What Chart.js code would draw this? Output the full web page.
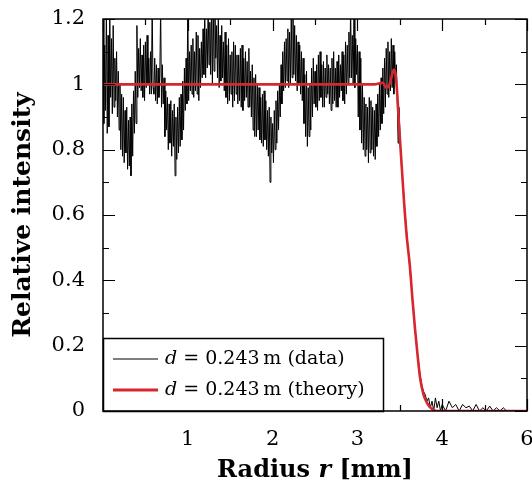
<!DOCTYPE html>
<html>
<head>
<meta charset="utf-8">
<script src="https://cdn.jsdelivr.net/npm/chart.js@4"></script>
<style>
  html, body { margin: 0; padding: 0; background: #fff; }
  #wrap { width: 532px; height: 489px; }
</style>
</head>
<body>
<div id="wrap"><canvas id="graphIntensity"></canvas></div>
<script>
const dataRadius = [
    0.00, 0.01, 0.02, 0.03, 0.04, 0.05, 0.06, 0.07, 0.08, 0.09, 0.10, 0.11, 0.12, 0.13, 0.14, 0.15, 0.16, 0.17, 0.18, 0.19,
    0.20, 0.21, 0.22, 0.23, 0.24, 0.25, 0.26, 0.27, 0.28, 0.29, 0.30, 0.31, 0.32, 0.33, 0.34, 0.35, 0.36, 0.37, 0.38, 0.39,
    0.40, 0.41, 0.42, 0.43, 0.44, 0.45, 0.46, 0.47, 0.48, 0.49, 0.50, 0.51, 0.52, 0.53, 0.54, 0.55, 0.56, 0.57, 0.58, 0.59,
    0.60, 0.61, 0.62, 0.63, 0.64, 0.65, 0.66, 0.67, 0.68, 0.69, 0.70, 0.71, 0.72, 0.73, 0.74, 0.75, 0.76, 0.77, 0.78, 0.79,
    0.80, 0.81, 0.82, 0.83, 0.84, 0.85, 0.86, 0.87, 0.88, 0.89, 0.90, 0.91, 0.92, 0.93, 0.94, 0.95, 0.96, 0.97, 0.98, 0.99,
    1.00, 1.01, 1.02, 1.03, 1.04, 1.05, 1.06, 1.07, 1.08, 1.09, 1.10, 1.11, 1.12, 1.13, 1.14, 1.15, 1.16, 1.17, 1.18, 1.19,
    1.20, 1.21, 1.22, 1.23, 1.24, 1.25, 1.26, 1.27, 1.28, 1.29, 1.30, 1.31, 1.32, 1.33, 1.34, 1.35, 1.36, 1.37, 1.38, 1.39,
    1.40, 1.41, 1.42, 1.43, 1.44, 1.45, 1.46, 1.47, 1.48, 1.49, 1.50, 1.51, 1.52, 1.53, 1.54, 1.55, 1.56, 1.57, 1.58, 1.59,
    1.60, 1.61, 1.62, 1.63, 1.64, 1.65, 1.66, 1.67, 1.68, 1.69, 1.70, 1.71, 1.72, 1.73, 1.74, 1.75, 1.76, 1.77, 1.78, 1.79,
    1.80, 1.81, 1.82, 1.83, 1.84, 1.85, 1.86, 1.87, 1.88, 1.89, 1.90, 1.91, 1.92, 1.93, 1.94, 1.95, 1.96, 1.97, 1.98, 1.99,
    2.00, 2.01, 2.02, 2.03, 2.04, 2.05, 2.06, 2.07, 2.08, 2.09, 2.10, 2.11, 2.12, 2.13, 2.14, 2.15, 2.16, 2.17, 2.18, 2.19,
    2.20, 2.21, 2.22, 2.23, 2.24, 2.25, 2.26, 2.27, 2.28, 2.29, 2.30, 2.31, 2.32, 2.33, 2.34, 2.35, 2.36, 2.37, 2.38, 2.39,
    2.40, 2.41, 2.42, 2.43, 2.44, 2.45, 2.46, 2.47, 2.48, 2.49, 2.50, 2.51, 2.52, 2.53, 2.54, 2.55, 2.56, 2.57, 2.58, 2.59,
    2.60, 2.61, 2.62, 2.63, 2.64, 2.65, 2.66, 2.67, 2.68, 2.69, 2.70, 2.71, 2.72, 2.73, 2.74, 2.75, 2.76, 2.77, 2.78, 2.79,
    2.80, 2.81, 2.82, 2.83, 2.84, 2.85, 2.86, 2.87, 2.88, 2.89, 2.90, 2.91, 2.92, 2.93, 2.94, 2.95, 2.96, 2.97, 2.98, 2.99,
    3.00, 3.01, 3.02, 3.03, 3.04, 3.05, 3.06, 3.07, 3.08, 3.09, 3.10, 3.11, 3.12, 3.13, 3.14, 3.15, 3.16, 3.17, 3.18, 3.19,
    3.20, 3.21, 3.22, 3.23, 3.24, 3.25, 3.26, 3.27, 3.28, 3.29, 3.30, 3.31, 3.32, 3.33, 3.34, 3.35, 3.36, 3.37, 3.38, 3.39,
    3.40, 3.41, 3.42, 3.43, 3.44, 3.45, 3.46, 3.47, 3.48, 3.49, 3.50,
    3.52, 3.54, 3.56, 3.58, 3.60, 3.62, 3.64, 3.66, 3.68, 3.70, 3.72, 3.74,
    3.76, 3.78, 3.80, 3.82, 3.84, 3.86, 3.88, 3.90, 3.92, 3.94, 3.96, 3.98,
    4.00, 4.04, 4.08, 4.12, 4.16, 4.20, 4.24, 4.28, 4.32, 4.36,
    4.40, 4.44, 4.48, 4.52, 4.56, 4.60, 4.64, 4.68, 4.72, 4.76,
    5.00
];
const dataIntensity = [
    1.22, 0.88, 1.12, 0.92, 1.25, 0.85, 1.15, 0.87, 1.21, 0.96, 1.14, 0.91, 1.18, 0.93, 1.08, 0.95, 1.10, 0.90, 1.04, 0.86,
    1.00, 0.80, 0.97, 0.78, 0.96, 0.76, 0.92, 0.79, 0.93, 0.74, 0.89, 0.75, 0.90, 0.72, 0.94, 0.78, 0.98, 0.85, 1.04, 0.88,
    1.18, 0.96, 1.11, 0.99, 1.14, 0.98, 1.09, 0.96, 1.12, 0.95, 1.13, 0.99, 1.15, 1.00, 1.08, 0.97, 1.10, 0.97, 1.24, 0.99,
    0.97, 1.08, 0.95, 1.06, 0.94, 1.05, 0.96, 1.03, 1.24, 0.93, 1.06, 0.94, 1.02, 0.84, 0.98, 0.86, 0.96, 0.80, 0.94, 0.82,
    0.95, 0.78, 0.92, 0.81, 0.94, 0.72, 0.90, 0.77, 0.93, 0.79, 0.96, 0.81, 0.97, 0.83, 1.01, 0.86, 1.05, 0.92, 1.08, 0.94,
    1.24, 0.95, 1.10, 0.98, 1.12, 0.97, 1.14, 0.96, 1.10, 0.98, 1.16, 0.97, 1.15, 0.95, 1.11, 0.99, 1.13, 1.02, 1.17, 1.03,
    1.22, 1.02, 1.17, 1.05, 1.24, 1.06, 1.19, 1.03, 1.25, 1.00, 1.24, 1.04, 1.24, 1.08, 1.18, 1.02, 1.22, 0.99, 1.15, 1.01,
    1.18, 1.02, 1.13, 0.98, 1.16, 0.96, 1.12, 0.94, 1.14, 0.95, 1.09, 0.97, 1.10, 0.93, 1.13, 0.95, 1.12, 0.97, 1.09, 0.94,
    1.09, 0.95, 1.11, 0.93, 1.12, 0.92, 1.08, 0.95, 1.10, 0.96, 1.07, 0.93, 1.11, 0.93, 1.04, 0.90, 1.06, 0.86, 1.02, 0.84,
    1.03, 0.84, 1.00, 0.86, 0.99, 0.83, 0.96, 0.82, 0.97, 0.81, 0.98, 0.83, 0.95, 0.80, 0.92, 0.78, 0.93, 0.70, 0.90, 0.79,
    0.88, 0.76, 0.92, 0.80, 0.95, 0.82, 0.98, 0.86, 1.00, 0.90, 1.06, 0.94, 1.10, 0.98, 1.13, 0.99, 1.14, 1.01, 1.17, 0.99,
    1.16, 1.00, 1.20, 1.02, 1.24, 1.03, 1.18, 1.01, 1.15, 0.98, 1.13, 1.00, 1.12, 0.97, 1.10, 0.95, 1.08, 0.88, 1.03, 0.84,
    1.04, 0.81, 0.99, 0.84, 1.00, 0.86, 1.05, 0.90, 1.08, 0.94, 1.04, 0.93, 1.06, 0.92, 1.09, 0.95, 1.10, 0.96, 1.06, 0.93,
    1.07, 0.93, 1.05, 0.96, 1.09, 0.97, 1.06, 0.94, 1.05, 0.92, 1.08, 0.94, 1.10, 0.95, 1.05, 0.93, 1.07, 0.93, 1.09, 0.96,
    1.06, 0.98, 1.10, 0.95, 1.09, 0.94, 1.13, 0.97, 1.12, 1.00, 1.16, 1.02, 1.24, 1.02, 1.15, 1.00, 1.22, 0.99, 1.14, 1.03,
    1.12, 0.90, 1.10, 0.86, 1.08, 0.82, 1.00, 0.80, 0.96, 0.78, 0.94, 0.80, 0.93, 0.76, 0.96, 0.79, 0.95, 0.80, 0.93, 0.78,
    0.92, 0.77, 0.94, 0.81, 0.97, 0.84, 1.00, 0.86, 1.02, 0.88, 1.05, 0.91, 1.08, 0.93, 1.11, 0.97, 1.13, 0.96, 1.10, 0.98,
    1.14, 0.99, 1.12, 0.97, 1.10, 1.02, 1.06, 0.95, 0.82, 0.93, 0.86,
    0.75, 0.69, 0.61, 0.55, 0.49, 0.43, 0.37, 0.31, 0.25, 0.19, 0.15, 0.11,
    0.08, 0.06, 0.05, 0.03, 0.04, 0.01, 0.03, 0.00, 0.04, 0.01, 0.03, 0.00,
    0.02, 0.00, 0.03, 0.01, 0.02, 0.00, 0.02, 0.01, 0.015, 0.00,
    0.02, 0.00, 0.01, 0.00, 0.015, 0.00, 0.01, 0.00, 0.01, 0.00,
    0.00
];

// theory curve
const theoryRadius = [0.00, 3.20, 3.26, 3.30, 3.34, 3.37, 3.40, 3.43, 3.45, 3.47, 3.49, 3.52, 3.55, 3.58, 3.62, 3.65, 3.68, 3.71, 3.74, 3.78, 3.82, 3.87, 3.94, 5.00];
const theoryIntensity = [1.00, 1.00, 1.003, 1.005, 0.99, 0.995, 1.02, 1.045, 1.03, 0.97, 0.88, 0.76, 0.64, 0.54, 0.44, 0.34, 0.25, 0.17, 0.10, 0.05, 0.025, 0.008, 0.00, 0.00];

const seriesLabels = ['(data)', '(theory)'];
const legendPrefix = ['d', ' = 0.243\u2009m '];
const xTickLabels = ['', '1', '2', '3', '4', '6'];
const yTickLabels = ['0', '0.2', '0.4', '0.6', '0.8', '1', '1.2'];
const xTitle = ['Radius ', 'r', ' [mm]'];

const FONT = "'DejaVu Serif', 'Liberation Serif', serif";
const RED = 'rgb(214, 39, 48)';

function toPoints(xs, ys) {
    return xs.map((x, i) => ({ x: x, y: ys[i] }));
}

const frameTicks = {
    id: 'frameTicks',
    afterDraw(chart) {
        const ctx = chart.ctx;
        const a = chart.chartArea;
        const xs = chart.scales.x;
        const ys = chart.scales.y;
        ctx.save();
        ctx.strokeStyle = '#000';
        ctx.lineWidth = 1.2;
        ctx.beginPath();
        xs.ticks.forEach(t => {
            const px = Math.round(xs.getPixelForValue(t.value)) + 0.5;
            const major = Math.abs(t.value - Math.round(t.value)) < 1e-6;
            const len = major ? 12 : 6;
            ctx.moveTo(px, a.bottom); ctx.lineTo(px, a.bottom - len);
            ctx.moveTo(px, a.top); ctx.lineTo(px, a.top + len);
        });
        ys.ticks.forEach(t => {
            const py = Math.round(ys.getPixelForValue(t.value)) + 0.5;
            const major = Math.abs(t.value * 5 - Math.round(t.value * 5)) < 1e-6;
            const len = major ? 12 : 6;
            ctx.moveTo(a.left, py); ctx.lineTo(a.left + len, py);
            ctx.moveTo(a.right, py); ctx.lineTo(a.right - len, py);
        });
        ctx.stroke();

        // legend box, lower left
        const bx = a.left, bw = 280, bh = 73, by = a.bottom - bh;
        ctx.fillStyle = '#fff';
        ctx.fillRect(bx, by, bw, bh);
        ctx.lineWidth = 1.5;
        ctx.strokeRect(bx + 0.5, by + 0.5, bw, bh);
        const rows = [by + 21, by + 52];
        chart.data.datasets.forEach((ds, i) => {
            const y = rows[i];
            ctx.strokeStyle = ds.borderColor;
            ctx.lineWidth = i === 0 ? 1 : 3;
            ctx.beginPath();
            ctx.moveTo(bx + 10, y); ctx.lineTo(bx + 55, y);
            ctx.stroke();
            ctx.fillStyle = '#000';
            ctx.textBaseline = 'middle';
            ctx.textAlign = 'left';
            ctx.font = 'italic 19px ' + FONT;
            let tx = bx + 62;
            ctx.fillText(legendPrefix[0], tx, y);
            tx += ctx.measureText(legendPrefix[0]).width;
            ctx.font = '19px ' + FONT;
            ctx.fillText(legendPrefix[1] + seriesLabels[i], tx, y);
        });

        // x axis title with italic r
        const fonts = ['bold 24px ' + FONT, 'bold italic 24px ' + FONT, 'bold 24px ' + FONT];
        let total = 0;
        xTitle.forEach((s, i) => { ctx.font = fonts[i]; total += ctx.measureText(s).width; });
        let tx = (a.left + a.right) / 2 - total / 2;
        ctx.textBaseline = 'alphabetic';
        xTitle.forEach((s, i) => {
            ctx.font = fonts[i];
            ctx.fillText(s, tx, 477);
            tx += ctx.measureText(s).width;
        });

        // frame on top
        ctx.strokeStyle = '#000';
        ctx.lineWidth = 1.5;
        ctx.strokeRect(a.left, a.top, a.right - a.left, a.bottom - a.top);
        ctx.restore();
    }
};

const chart = new Chart(document.getElementById('graphIntensity'), {
    type: 'line',
    data: {
        datasets: [
            {
                label: seriesLabels[0],
                data: toPoints(dataRadius, dataIntensity),
                borderColor: '#000',
                borderWidth: 1,
                pointRadius: 0,
                tension: 0,
                order: 1
            },
            {
                label: seriesLabels[1],
                data: toPoints(theoryRadius, theoryIntensity),
                borderColor: RED,
                borderWidth: 2.6,
                pointRadius: 0,
                cubicInterpolationMode: 'monotone',
                order: 0
            }
        ]
    },
    plugins: [frameTicks],
    options: {
        responsive: true,
        maintainAspectRatio: false,
        animation: false,
        layout: { padding: { left: 0, right: 5, top: 19, bottom: 0 } },
        plugins: {
            legend: { display: false },
            tooltip: { enabled: false }
        },
        scales: {
            x: {
                type: 'linear',
                min: 0,
                max: 5,
                grid: { display: false },
                border: { display: false },
                ticks: {
                    stepSize: 0.5,
                    autoSkip: false,
                    maxRotation: 0,
                    padding: 8,
                    color: '#000',
                    font: { family: FONT, size: 21 },
                    callback: v => Number.isInteger(v) ? xTickLabels[v] : ''
                },
                afterFit: s => {
                    s.height = 78;
                    s.paddingLeft = 0;
                    s.paddingRight = 0;
                }
            },
            y: {
                min: 0,
                max: 1.2,
                grid: { display: false },
                border: { display: false },
                ticks: {
                    stepSize: 0.1,
                    autoSkip: false,
                    padding: 10,
                    color: '#000',
                    font: { family: FONT, size: 21 },
                    callback: v => {
                        const k = Math.round(v * 10);
                        return k % 2 === 0 ? yTickLabels[k / 2] : '';
                    }
                },
                title: {
                    display: true,
                    text: 'Relative intensity',
                    color: '#000',
                    font: { family: FONT, size: 25, weight: 'bold' },
                    padding: { top: 8, bottom: 0 }
                },
                afterFit: s => {
                    s.width = 103;
                    s.paddingTop = 0;
                    s.paddingBottom = 0;
                }
            }
        }
    }
});
</script>
</body>
</html>
